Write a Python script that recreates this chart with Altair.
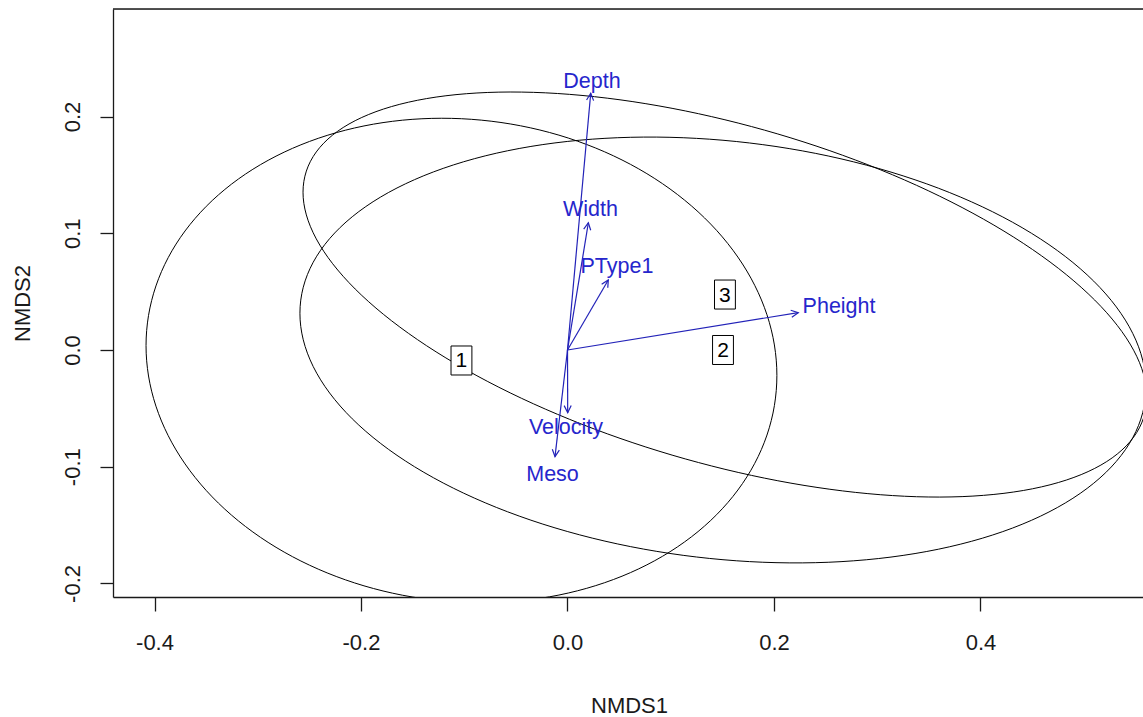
import altair as alt
import numpy as np
import pandas as pd

# ---- data ----
# ordiellipse groups: label, centre and ellipse matrix (sxx, sxy, syy)
ell_group = ["1", "2", "3"]
ell_cx = [-0.1027, 0.1506, 0.1525]
ell_cy = [-0.0090, 0.0000, 0.0475]
ell_sxx = [0.09333, 0.1679, 0.1670]
ell_sxy = [-0.0039, -0.0129, -0.03583]
ell_syy = [0.04306, 0.03327, 0.0301]

# envfit vectors (arrow tips) and label positions
vec_names = ["Depth", "Width", "PType1", "Pheight", "Velocity", "Meso"]
vec_x = [0.0225, 0.0202, 0.0395, 0.2235, 0.0002, -0.0121]
vec_y = [0.2199, 0.1090, 0.0600, 0.0320, -0.0537, -0.0914]
lab_x = [0.0237, 0.0223, 0.0479, 0.2630, -0.0015, -0.0145]
lab_y = [0.2298, 0.1196, 0.0707, 0.0368, -0.0672, -0.1072]

x_ticks = [-0.4, -0.2, 0.0, 0.2, 0.4]
y_ticks = [-0.2, -0.1, 0.0, 0.1, 0.2]
x_domain = [-0.4402, 0.5574]
y_domain = [-0.2116, 0.2921]

# ---- layout / style ----
W, H = 1030, 588
FONT = "Liberation Sans"
BLUE_T = "#2626CC"
BLUE_L = "#2222B8"
INK = "#1a1a1a"

# ellipse outlines from centre + matrix (as vegan's veganCovEllipse)
rows = []
t = np.linspace(0, 2 * np.pi, 201)
circle = np.column_stack([np.cos(t), np.sin(t)])
for g, cx, cy, a, b, c in zip(ell_group, ell_cx, ell_cy, ell_sxx, ell_sxy, ell_syy):
    L = np.linalg.cholesky(np.array([[a, b], [b, c]]))
    pts = circle @ L.T
    for i, (px, py) in enumerate(pts):
        rows.append({"group": g, "i": i, "x": cx + px, "y": cy + py})
ell_df = pd.DataFrame(rows)
lab_df = pd.DataFrame({"group": ell_group, "x": ell_cx, "y": ell_cy})

ppx = W / (x_domain[1] - x_domain[0])
ppy = H / (y_domain[1] - y_domain[0])
vec_df = pd.DataFrame({"name": vec_names, "x": vec_x, "y": vec_y,
                       "x0": [0.0] * len(vec_x), "y0": [0.0] * len(vec_y),
                       "lx": lab_x, "ly": lab_y})
vec_df["ang"] = (np.degrees(np.arctan2(vec_df["x"] * ppx, vec_df["y"] * ppy)) + 360) % 360

xs = alt.Scale(domain=x_domain, nice=False, zero=False)
ys = alt.Scale(domain=y_domain, nice=False, zero=False)

x_axis = alt.Axis(values=x_ticks, title="NMDS1", grid=False,
                  labelExpr="(datum.value < 0 ? '-' : '') + format(abs(datum.value), '.1f')",
                  tickSize=14, tickColor=INK, tickWidth=1.3,
                  domainColor=INK, domainWidth=1.3,
                  labelFont=FONT, labelFontSize=22, labelColor=INK, labelPadding=21,
                  labelFlush=False, labelOverlap=False,
                  titleFont=FONT, titleFontSize=22, titleFontWeight="normal", titleColor=INK,
                  titleX=516, titleY=108, titleBaseline="middle", titleAlign="center")
y_axis = alt.Axis(values=y_ticks, title="NMDS2", grid=False,
                  labelExpr="(datum.value < 0 ? '-' : '') + format(abs(datum.value), '.1f')",
                  tickSize=13, tickColor=INK, tickWidth=1.3,
                  domainColor=INK, domainWidth=1.3,
                  labelFont=FONT, labelFontSize=22, labelColor=INK, labelPadding=16,
                  labelAngle=270, labelAlign="center", labelBaseline="bottom",
                  labelFlush=False, labelOverlap=False,
                  titleFont=FONT, titleFontSize=22, titleFontWeight="normal", titleColor=INK,
                  titleAngle=270, titleX=-91, titleY=294, titleBaseline="middle", titleAlign="center")

ellipses = alt.Chart(ell_df).mark_line(color="black", strokeWidth=1, clip=True).encode(
    x=alt.X("x:Q", scale=xs, axis=x_axis),
    y=alt.Y("y:Q", scale=ys, axis=y_axis),
    detail="group:N",
    order="i:Q",
)

top_border = alt.Chart(pd.DataFrame({"v": [y_domain[1]]})).mark_rule(
    color=INK, strokeWidth=1.3).encode(y=alt.Y("v:Q", scale=ys))

boxes = alt.Chart(lab_df).mark_point(
    shape="M-0.72,-1L0.72,-1L0.72,1L-0.72,1Z", size=841, filled=True,
    fill="white", stroke="black", strokeWidth=1, opacity=1, fillOpacity=1).encode(
    x=alt.X("x:Q", scale=xs), y=alt.Y("y:Q", scale=ys))
box_text = alt.Chart(lab_df).mark_text(font=FONT, fontSize=21, color="black",
                                       baseline="middle", align="center", dy=1).encode(
    x=alt.X("x:Q", scale=xs), y=alt.Y("y:Q", scale=ys), text="group:N")

shafts = alt.Chart(vec_df).mark_rule(color=BLUE_L, strokeWidth=1.2).encode(
    x=alt.X("x0:Q", scale=xs), y=alt.Y("y0:Q", scale=ys),
    x2="x:Q", y2="y:Q")
heads = alt.Chart(vec_df).mark_point(
    shape="M-0.5,1L0,0L0.5,1", size=200, filled=False, strokeWidth=1.2,
    color=BLUE_L, opacity=1).encode(
    x=alt.X("x:Q", scale=xs), y=alt.Y("y:Q", scale=ys),
    angle=alt.Angle("ang:Q", scale=None))
vec_text = alt.Chart(vec_df).mark_text(font=FONT, fontSize=21.5, color=BLUE_T,
                                       baseline="middle", align="center").encode(
    x=alt.X("lx:Q", scale=xs), y=alt.Y("ly:Q", scale=ys), text="name:N")

chart = alt.layer(ellipses, top_border, boxes, box_text, shafts, heads, vec_text).properties(
    width=W, height=H,
    autosize=alt.AutoSizeParams(type="none"),
    padding={"left": 113, "top": 9, "right": 0, "bottom": 120},
).configure_view(stroke=None).configure(background="white")

chart.save("out.html", embed_options={"renderer": "svg", "actions": False})
